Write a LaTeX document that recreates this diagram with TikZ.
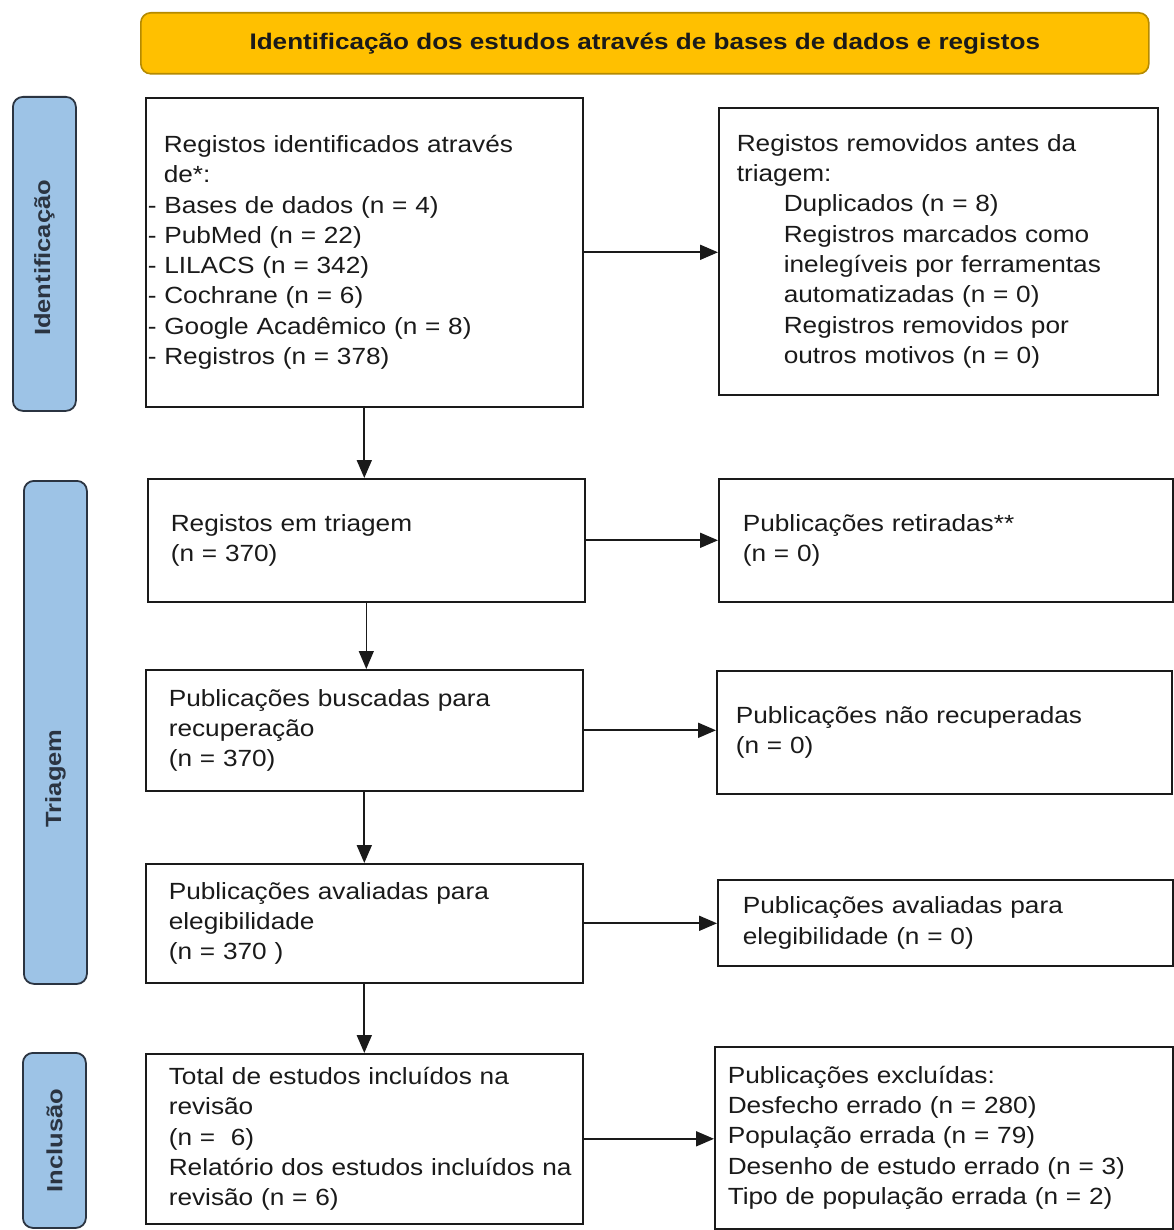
\documentclass[tikz,border=0pt]{standalone}
\usepackage{fontspec}
\setmainfont{Liberation Sans}[FakeStretch=1.12]
\newfontfamily\labfont{Liberation Sans}[FakeStretch=1.16]
\usetikzlibrary{arrows.meta}
\definecolor{hdrfill}{HTML}{FFC000}
\definecolor{hdrline}{HTML}{B58A00}
\definecolor{sidefill}{HTML}{9DC3E6}
\definecolor{sideline}{HTML}{2B3441}
\definecolor{ink}{HTML}{1A1A1A}
\begin{document}
\begin{tikzpicture}[x=1pt,y=-1pt,
  box/.style={draw=ink, line width=1.6pt, rectangle, anchor=north west, inner ysep=0pt,
    align=left, font=\fontsize{23.4}{30.3}\selectfont, text=ink},
  sidebox/.style={draw=sideline, fill=sidefill, line width=1.8pt, rounded corners=10pt,
    rectangle, anchor=north west, inner sep=0pt},
  sidetext/.style={rotate=90, font=\labfont\bfseries\fontsize{22}{26}\selectfont, text=sideline, inner sep=0pt},
  hdrbox/.style={draw=hdrline, fill=hdrfill, line width=1.6pt, rounded corners=10pt,
    rectangle, anchor=north west, inner sep=0pt, font=\labfont\bfseries\fontsize{22.5}{27}\selectfont, text=ink},
  arr/.style={draw=ink, line width=1.8pt, -{Triangle[length=18pt,width=15pt]}},
  thinarr/.style={draw=ink, line width=1.2pt, -{Triangle[length=18pt,width=15pt]}}
]
\fill[white] (0,0) rectangle (1173,1230);
\useasboundingbox (0,0) rectangle (1173,1230);

% header
\node[hdrbox, minimum width=1008pt, minimum height=61pt] (hdr) at (140,12)
  {Identificação dos estudos através de bases de dados e registos};

% side labels
\node[sidebox, minimum width=63pt, minimum height=314pt] (s1) at (12,96) {};
\node[sidetext] (s1t) at ([yshift=-4pt]s1.center) {Identificação};
\node[sidebox, minimum width=63pt, minimum height=503pt] (s2) at (23,480) {};
\node[sidetext] (s2t) at ([yshift=-46pt]s2.center) {Triagem};
\node[sidebox, minimum width=63pt, minimum height=175pt] (s3) at (22,1052) {};
\node[sidetext] (s3t) at (s3.center) {Inclusão};

% left column
\node[box, minimum width=437pt, minimum height=309pt, inner xsep=2pt, text width=433pt] (b1) at (145,97)
  {\hspace*{16pt}Registos identificados através\\
   \hspace*{16pt}de*:\\
   - Bases de dados (n = 4)\\
   - PubMed (n = 22)\\
   - LILACS (n = 342)\\
   - Cochrane (n = 6)\\
   - Google Acadêmico (n = 8)\\
   - Registros (n = 378)};
\node[box, minimum width=437pt, minimum height=123pt, inner xsep=23pt, text width=391pt] (b2) at (147,478)
  {Registos em triagem\\(n = 370)};
\node[box, minimum width=437pt, minimum height=121pt, inner xsep=23pt, text width=391pt] (b3) at (145,669)
  {Publicações buscadas para\\recuperação\\(n = 370)};
\node[box, minimum width=437pt, minimum height=119pt, inner xsep=23pt, text width=391pt] (b4) at (145,863)
  {Publicações avaliadas para\\elegibilidade\\(n = 370 )};
\node[box, minimum width=437pt, minimum height=170pt, inner xsep=23pt, text width=391pt] (b5) at (145,1053)
  {\mbox{Total de estudos incluídos na}\\revisão\\(n = \ 6)\\\mbox{Relatório dos estudos incluídos na}\\revisão (n = 6)};

% right column
\node[box, minimum width=439pt, minimum height=287pt, inner xsep=18pt, text width=403pt] (r1) at (718,107)
  {Registos removidos antes da\\triagem:\\
   \hspace*{47pt}Duplicados (n = 8)\\
   \hspace*{47pt}Registros marcados como\\
   \hspace*{47pt}inelegíveis por ferramentas\\
   \hspace*{47pt}automatizadas (n = 0)\\
   \hspace*{47pt}Registros removidos por\\
   \hspace*{47pt}outros motivos (n = 0)};
\node[box, minimum width=454pt, minimum height=123pt, inner xsep=24pt, text width=406pt] (r2) at (718,478)
  {Publicações retiradas**\\(n = 0)};
\node[box, minimum width=455pt, minimum height=123pt, inner xsep=19pt, text width=417pt] (r3) at (716,670)
  {Publicações não recuperadas\\(n = 0)};
\node[box, minimum width=455pt, minimum height=86pt, inner xsep=25pt, text width=405pt] (r4) at (717,879)
  {Publicações avaliadas para\\elegibilidade (n = 0)};
\node[box, minimum width=458pt, minimum height=182pt, inner xsep=13pt, text width=432pt] (r5) at (714,1046)
  {Publicações excluídas:\\Desfecho errado (n = 280)\\População errada (n = 79)\\Desenho de estudo errado (n = 3)\\Tipo de população errada (n = 2)};

% vertical connectors
\draw[arr] (b1.south) -- (b1.south |- b2.north);
\draw[thinarr] (b2.south) -- (b2.south |- b3.north);
\draw[arr] (b3.south) -- (b3.south |- b4.north);
\draw[arr] (b4.south) -- (b4.south |- b5.north);

% horizontal connectors
\draw[arr] (b1.east) -- (b1.east -| r1.west);
\draw[arr] (b2.east) -- (b2.east -| r2.west);
\draw[arr] (b3.east) -- (b3.east -| r3.west);
\draw[arr] (b4.east) -- (b4.east -| r4.west);
\draw[arr] (b5.east) -- (b5.east -| r5.west);
\end{tikzpicture}
\end{document}
